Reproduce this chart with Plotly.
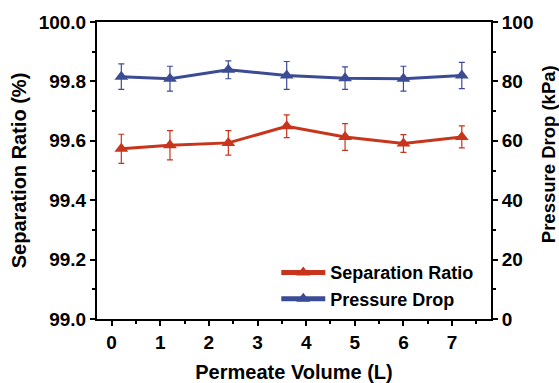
import plotly.graph_objects as go

volume = [0.2, 1.2, 2.4, 3.6, 4.8, 6.0, 7.2]
separation = [99.573, 99.585, 99.593, 99.649, 99.613, 99.591, 99.613]
separation_err = [0.049, 0.049, 0.041, 0.038, 0.045, 0.030, 0.037]
pressure = [81.6, 80.9, 83.9, 82.0, 81.1, 80.9, 82.0]
pressure_err = [4.3, 4.2, 3.0, 4.7, 3.8, 4.2, 4.4]

red = "#C8341C"
blue = "#3B4B94"
font_family = "Arial, Liberation Sans, sans-serif"

fig = go.Figure()
fig.add_trace(go.Scatter(
    x=volume, y=separation, name="Separation Ratio", mode="lines+markers",
    line=dict(color=red, width=3),
    marker=dict(symbol="triangle-up", size=12, color=red),
    error_y=dict(type="data", array=separation_err, color=red, thickness=1.2, width=3),
))
fig.add_trace(go.Scatter(
    x=volume, y=pressure, name="Pressure Drop", mode="lines+markers", yaxis="y2",
    line=dict(color=blue, width=3),
    marker=dict(symbol="triangle-up", size=12, color=blue),
    error_y=dict(type="data", array=pressure_err, color=blue, thickness=1.2, width=3),
))

axis_common = dict(
    showline=True, linecolor="black", linewidth=2, ticks="outside",
    ticklen=5, tickwidth=2, tickcolor="black", showgrid=False, zeroline=False,
    automargin=False,
    tickfont=dict(family=font_family, size=19, color="black", weight="bold"),
)

fig.update_layout(
    width=559, height=383,
    margin=dict(l=97, r=68, t=22, b=64),
    plot_bgcolor="white", paper_bgcolor="white",
    font=dict(family=font_family, color="black"),
    xaxis=dict(
        range=[-0.3, 7.8], tickmode="linear", tick0=0, dtick=1, mirror=True,
        minor=dict(dtick=0.5, ticklen=3, tickwidth=2, tickcolor="black", ticks="outside"),
        title=dict(text="Permeate Volume (L)", standoff=18,
                   font=dict(family=font_family, size=20, color="black", weight="bold")),
        **axis_common,
    ),
    yaxis=dict(
        range=[99.0, 100.0], tickmode="linear", tick0=99.0, dtick=0.2, tickformat=".1f",
        minor=dict(dtick=0.1, ticklen=3, tickwidth=2, tickcolor="black", ticks="outside"),
        title=dict(text="Separation Ratio (%)", standoff=7,
                   font=dict(family=font_family, size=20, color="black", weight="bold")),
        **axis_common,
    ),
    yaxis2=dict(
        range=[0, 100], tickmode="linear", tick0=0, dtick=20, overlaying="y", side="right",
        minor=dict(dtick=10, ticklen=3, tickwidth=2, tickcolor="black", ticks="outside"),
        **axis_common,
    ),
    annotations=[dict(
        text="Pressure Drop (kPa)", xref="paper", yref="paper",
        x=1.148, y=0.556, xanchor="center", yanchor="middle", textangle=-90,
        showarrow=False,
        font=dict(family=font_family, size=18.5, color="black", weight="bold"),
    )],
    legend=dict(
        x=0.455, y=0.218, xanchor="left", yanchor="top",
        bgcolor="rgba(0,0,0,0)", borderwidth=0, itemwidth=44,
        font=dict(family=font_family, size=18, color="black", weight="bold"),
        tracegroupgap=0, itemsizing="constant",
    ),
    showlegend=True,
)

fig.write_html(
    "out.html",
    config={"displayModeBar": False},
    post_script="document.body.style.margin='0';document.body.style.padding='0';",
)
